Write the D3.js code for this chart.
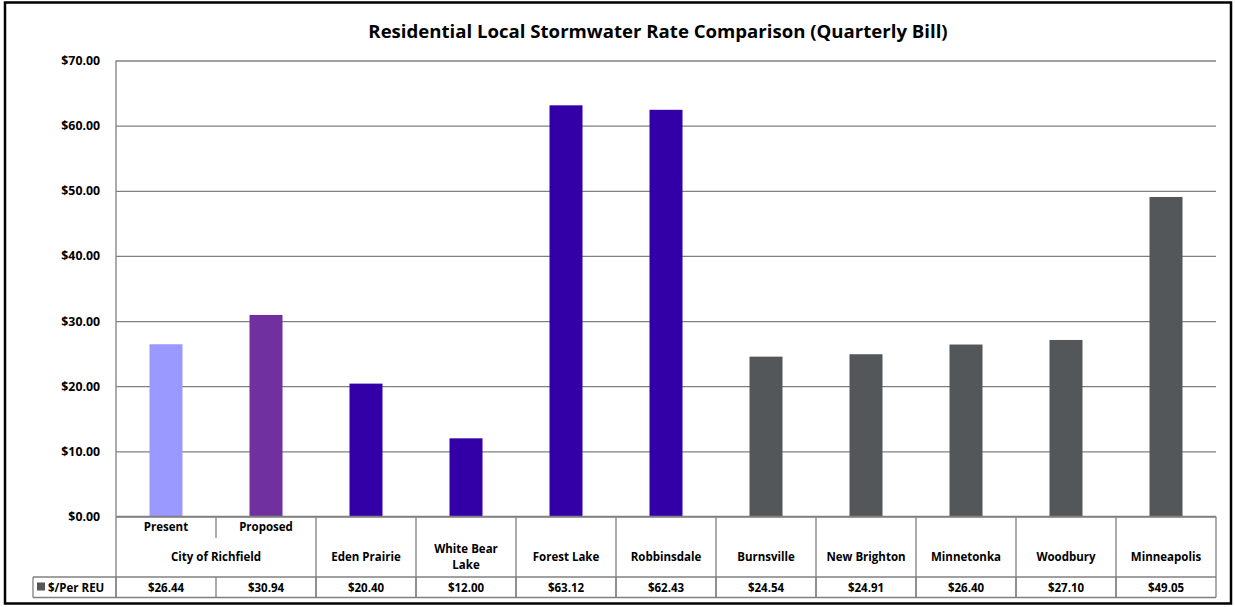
<!DOCTYPE html>
<html><head><meta charset="utf-8">
<script src="https://cdn.jsdelivr.net/npm/d3@7/dist/d3.min.js"></script>
<style>
body{margin:0;background:#fff;}
text{font-family:"Open Sans",sans-serif;font-weight:bold;fill:#000;}
</style></head>
<body><svg id="c" width="1235" height="607"></svg>
<script>
const title = "Residential Local Stormwater Rate Comparison (Quarterly Bill)";
const barKeys = ["Present","Proposed","Eden Prairie","White Bear Lake","Forest Lake","Robbinsdale","Burnsville","New Brighton","Minnetonka","Woodbury","Minneapolis"];
const subLabels = ["Present","Proposed"];
const groupLabels = [["City of Richfield"],["Eden Prairie"],["White Bear","Lake"],["Forest Lake"],["Robbinsdale"],["Burnsville"],["New Brighton"],["Minnetonka"],["Woodbury"],["Minneapolis"]];
const groupSpans = [2,1,1,1,1,1,1,1,1,1];
const values = [26.44,30.94,20.40,12.00,63.12,62.43,24.54,24.91,26.40,27.10,49.05];
const seriesName = "$/Per REU";
const yTicks = [0,10,20,30,40,50,60,70];

const barColors = ["#9999FF","#7030A0","#3300A8","#3300A8","#3300A8","#3300A8","#54575A","#54575A","#54575A","#54575A","#54575A"];

const svg = d3.select("#c");
const L = 116, R = 1216, T = 60.5, B = 516.5;
const x = d3.scaleBand().domain(barKeys).range([L, R]).paddingInner(0).paddingOuter(0);
const y = d3.scaleLinear().domain([0, 70]).range([B, T]);
const fmt = d3.format("$.2f");
const fs = "11.5px";

svg.append("rect").attr("x",5).attr("y",2.5).attr("width",1226).attr("height",601)
  .attr("fill","#fff").attr("stroke","#000").attr("stroke-width",2.5);

svg.append("text").attr("x",658).attr("y",38).attr("text-anchor","middle")
  .style("font-size","18.6px").text(title);

const yAxis = d3.axisLeft(y).tickValues(yTicks).tickSize(-(R-L)).tickFormat(fmt).tickPadding(16);
const gy = svg.append("g").attr("transform",`translate(${L},0)`).call(yAxis);
gy.select(".domain").remove();
gy.selectAll(".tick line").attr("stroke","#808080").attr("stroke-width",1.3);
gy.selectAll(".tick text").style("font-size","12.3px").style("font-family","'Open Sans',sans-serif").attr("fill","#000");
svg.append("line").attr("x1",L).attr("x2",L).attr("y1",T).attr("y2",B).attr("stroke","#808080").attr("stroke-width",1.3);

const bw = 33;
svg.append("g").selectAll("rect").data(barKeys).join("rect")
  .attr("x", d => x(d) + x.bandwidth()/2 - bw/2)
  .attr("width", bw)
  .attr("y", (d,i) => y(values[i]))
  .attr("height", (d,i) => B - y(values[i]))
  .attr("fill", (d,i) => barColors[i]);

const tb = svg.append("g").attr("stroke","#808080").attr("stroke-width",1.3).attr("fill","none");
const rowTop = B, rowMid = 577, rowBot = 597.5, legL = 33;
tb.append("line").attr("x1",L).attr("x2",R).attr("y1",rowTop).attr("y2",rowTop);
tb.append("line").attr("x1",legL).attr("x2",R).attr("y1",rowMid).attr("y2",rowMid);
tb.append("line").attr("x1",legL).attr("x2",R).attr("y1",rowBot).attr("y2",rowBot);
tb.append("line").attr("x1",legL).attr("x2",legL).attr("y1",rowMid).attr("y2",rowBot);
let idx = 0;
const bounds = [L];
groupSpans.forEach(s => { idx += s; bounds.push(idx < barKeys.length ? x(barKeys[idx]) : R); });
bounds.forEach(bx => tb.append("line").attr("x1",bx).attr("x2",bx).attr("y1",rowTop).attr("y2",rowBot));
tb.append("line").attr("x1",x(barKeys[1])).attr("x2",x(barKeys[1])).attr("y1",rowTop).attr("y2",538);
barKeys.forEach(k => tb.append("line").attr("x1",x(k)).attr("x2",x(k)).attr("y1",rowMid).attr("y2",rowBot));

const lab = svg.append("g").style("font-size",fs).attr("text-anchor","middle");
subLabels.forEach((s,i) => lab.append("text").attr("x", x(barKeys[i]) + x.bandwidth()/2).attr("y",531).text(s));
groupLabels.forEach((g,gi) => {
  const x0 = bounds[gi], x1 = bounds[gi+1];
  const cx = (x0+x1)/2;
  const t = lab.append("text").attr("x",cx);
  if (g.length === 1) {
    t.attr("y",561).text(g[0]);
  } else {
    g.forEach((line,li) => t.append("tspan").attr("x",cx).attr("y",553 + li*16).text(line));
  }
});
values.forEach((v,i) => lab.append("text").attr("x", x(barKeys[i]) + x.bandwidth()/2).attr("y",591.5).text(fmt(v)));
svg.append("rect").attr("x",37).attr("y",582.5).attr("width",8).attr("height",8).attr("fill","#54575A");
svg.append("text").attr("x",48).attr("y",591.5).style("font-size",fs).text(seriesName);
</script></body></html>
